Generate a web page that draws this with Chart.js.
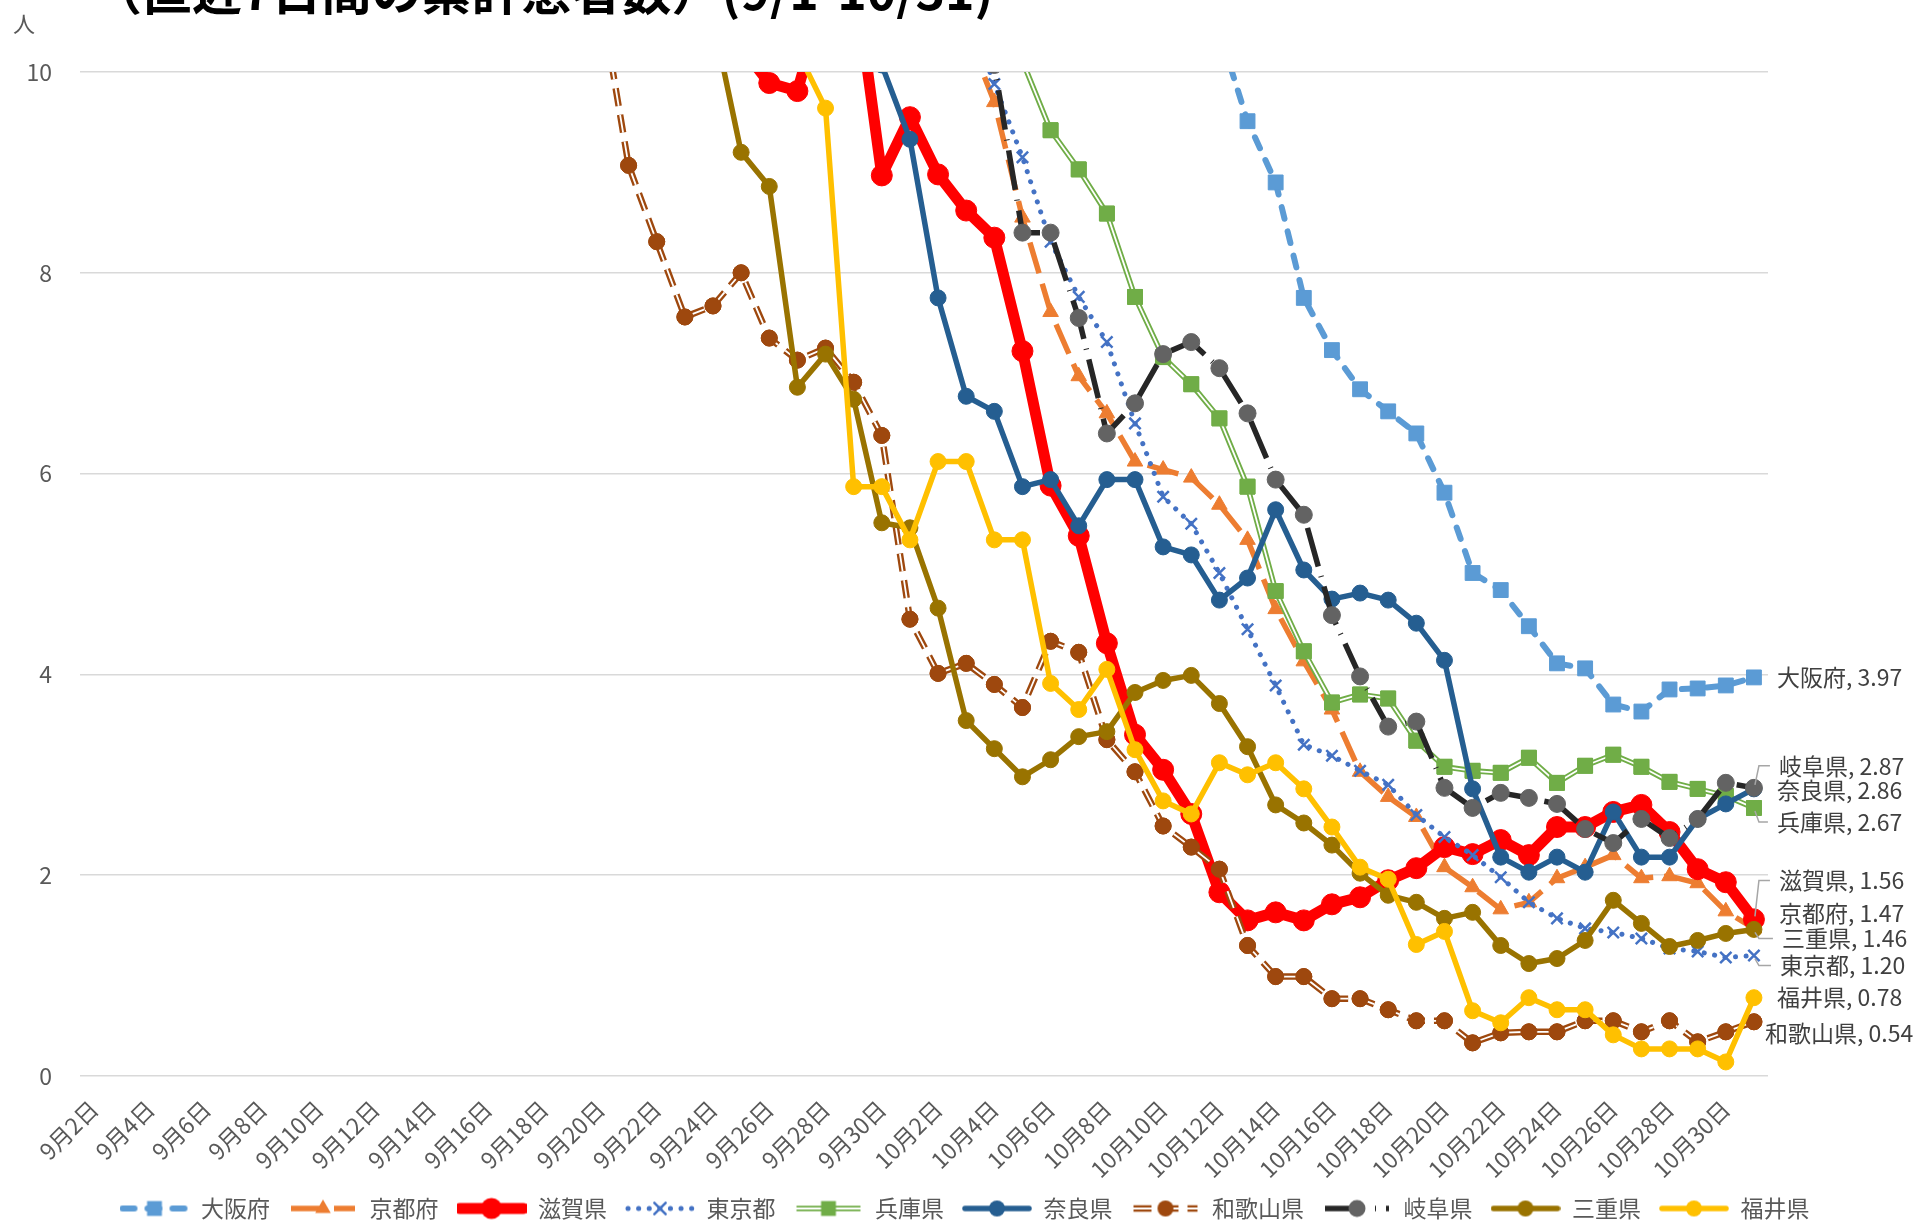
<!DOCTYPE html>
<html>
<head>
<meta charset="utf-8">
<script src="https://cdn.jsdelivr.net/npm/chart.js@4.4.1/dist/chart.umd.min.js"></script>
<style>
html, body { margin: 0; padding: 0; background: #ffffff; overflow: hidden; }
#wrap { position: relative; width: 1917px; height: 1221px; overflow: hidden; }
#c { position: absolute; left: 0; top: 0; }
#title { position: absolute; left: 92px; top: -37px; font: bold 50px "Noto Sans CJK JP", sans-serif; color: #000000; white-space: nowrap; line-height: 1; }
#unit { position: absolute; left: 13px; top: 11px; font: 22px "Noto Sans CJK JP", sans-serif; color: #595959; line-height: 1; }
</style>
</head>
<body>
<div id="wrap">
  <canvas id="c" width="1917" height="1230"></canvas>
  <div id="title">（直近7日間の累計患者数）(9/1-10/31)</div>
  <div id="unit">人</div>
</div>
<script>
// ---------------- data ----------------
const categories = ['9月2日','9月3日','9月4日','9月5日','9月6日','9月7日','9月8日','9月9日','9月10日','9月11日','9月12日','9月13日','9月14日','9月15日','9月16日','9月17日','9月18日','9月19日','9月20日','9月21日','9月22日','9月23日','9月24日','9月25日','9月26日','9月27日','9月28日','9月29日','9月30日',
'10月1日','10月2日','10月3日','10月4日','10月5日','10月6日','10月7日','10月8日','10月9日','10月10日','10月11日','10月12日','10月13日','10月14日','10月15日','10月16日','10月17日','10月18日','10月19日','10月20日','10月21日','10月22日','10月23日','10月24日','10月25日','10月26日','10月27日','10月28日','10月29日','10月30日','10月31日'];

const yTicks = [0, 2, 4, 6, 8, 10];

const seriesNames = ['大阪府','京都府','滋賀県','東京都','兵庫県','奈良県','和歌山県','岐阜県','三重県','福井県'];

const osaka = [128,125,121,117,112,108,103,98,93,88, 83,78,73,68,64,60,56,52,48,45, 42,39,36,33,31,29,27,25,23,21.5, 20,18.5,17,16,15,14,13.2,12.4,11.6,11.0, 10.4, 9.51,8.90,7.75,7.23,6.84,6.62,6.40,5.81,5.01, 4.84,4.48,4.11,4.06,3.70,3.63,3.85,3.86,3.89,3.97];
const kyoto = [92,89,86,82,78,74,70,66,62,58, 54,50,47,44,41,38,35,32,30,28, 26,24,22,20.5,19,17.5,16,14.5,13.2,12.1, 11.2, 10.42, 9.70,8.55,7.61,6.97,6.60,6.12,6.04,5.96, 5.69,5.34,4.65,4.13,3.65,3.03,2.78,2.58,2.08,1.88, 1.66,1.73,1.97,2.08,2.20,1.97,1.99,1.92,1.64,1.47];
const shiga = [78,75,72,68,64,60,56,52,48,44, 41,38,35,32,29,26.5,24,22,20,18, 16,14,12, 10.25, 9.89,9.81,10.8,11.03,8.97,9.55, 8.98,8.62,8.35,7.22,5.88,5.38,4.31,3.40,3.05,2.61, 1.83,1.55,1.63,1.55,1.71,1.78,1.95,2.07,2.28,2.21, 2.35,2.20,2.48,2.48,2.63,2.70,2.43,2.06,1.93,1.56];
const tokyo = [120,114,108,102,96,90,84,78,72,67, 62,57,52,48,44,41,38,35,32,29.5, 27,25,23,21,19.5,18,16.5,15,13.8,12.6, 11.5, 10.64, 9.88,9.15,8.31,7.76,7.31,6.50,5.77,5.50, 5.01,4.45,3.89,3.30,3.19,3.04,2.90,2.60,2.38,2.20, 1.98,1.73,1.57,1.47,1.43,1.37,1.27,1.24,1.18,1.20];
const hyogo = [95,92,89,86,82,78,74,70,66,62, 58,54,50,47,44,41,38,35,32.5,30, 28,26,24,22,20.5,19,17.5,16,14.8,13.6, 12.5,11.6,10.8, 10.11, 9.42,9.03,8.59,7.76,7.16,6.89, 6.55,5.87,4.83,4.23,3.72,3.80,3.76,3.34,3.08,3.04, 3.02,3.17,2.92,3.09,3.20,3.08,2.93,2.86,2.79,2.67];
const nara = [72,70,68,65,62,59,56,53,50,47, 44,41,38,35,32,29.5,27,25,23,21, 19.5,18,16.5,15,13.8,12.7,11.7,10.8, 10.07, 9.33, 7.75,6.77,6.62,5.87,5.94,5.48,5.94,5.94,5.27,5.19, 4.74,4.96,5.64,5.04,4.75,4.81,4.74,4.51,4.14,2.86, 2.18,2.03,2.18,2.03,2.63,2.18,2.18,2.56,2.71,2.86];
const wakayama = [34,33,32,31,30,28.5,27,25.5,24,22.5, 21,19.5,18,16.5,15,13.5,12.4,11.5, 10.74, 9.07, 8.31,7.56,7.67,8.00,7.35,7.13,7.25,6.91,6.38,4.55, 4.01,4.11,3.90,3.67,4.33,4.22,3.35,3.03,2.49,2.28, 2.06,1.30,0.99,0.99,0.77,0.77,0.66,0.55,0.55,0.33, 0.43,0.44,0.44,0.55,0.55,0.44,0.55,0.34,0.44,0.54];
const gifu = [82,79,76,73,70,67,64,61,58,55, 52,49,46,43,40,37,34.5,32,29.5,27, 25,23,21,19.5,18,16.5,15.2,14,12.9,11.9, 11.1,10.5, 10.07, 8.40,8.40,7.55,6.40,6.70,7.19,7.31, 7.05,6.60,5.94,5.59,4.59,3.98,3.48,3.53,2.87,2.67, 2.82,2.77,2.71,2.46,2.32,2.56,2.37,2.56,2.92,2.87];
const mie = [60,58,56,53,50,47,44,41,38,35, 32,29.5,27,25,23,21,19.2,17.5,15.8,14.2, 12.8,11.6, 10.53, 9.20,8.86,6.86,7.19,6.74,5.51,5.46, 4.66,3.54,3.26,2.98,3.15,3.38,3.43,3.82,3.94,3.99, 3.71,3.28,2.70,2.52,2.30,2.02,1.80,1.73,1.57,1.63, 1.30,1.12,1.17,1.35,1.75,1.52,1.29,1.35,1.42,1.46];
const fukui = [32,31,30,29,28,27,26,25,24,23, 22,21,20,19,18,17,16,15.2,14.4,13.6, 12.9,12.2,11.6,11.0,10.6, 10.21, 9.64,5.87,5.87,5.34, 6.12,6.12,5.34,5.34,3.91,3.65,4.05,3.25,2.74,2.61, 3.12,3.00,3.12,2.86,2.48,2.08,1.96,1.31,1.44,0.65, 0.53,0.78,0.66,0.66,0.41,0.27,0.27,0.27,0.14,0.78];

const seriesData = [osaka, kyoto, shiga, tokyo, hyogo, nara, wakayama, gifu, mie, fukui];

// ---------------- styles ----------------
const seriesStyles = [
  { color: '#5B9BD5', width: 6, dash: [12, 13], cap: 'round', marker: 'rect', r: 10.5 },
  { color: '#ED7D31', width: 5.5, dash: [32, 11], cap: 'butt', marker: 'triangle', r: 9 },
  { color: '#FF0000', width: 11, dash: [], cap: 'round', marker: 'circle', r: 10.5 },
  { color: '#4472C4', width: 5, dash: [0.1, 10.5], cap: 'round', marker: 'crossRot', r: 8, mbw: 2.5 },
  { color: '#70AD47', width: 5.5, dash: [], cap: 'butt', marker: 'rect', r: 10.5, core: 1.8 },
  { color: '#255E91', width: 5.5, dash: [], cap: 'round', marker: 'circle', r: 8 },
  { color: '#9E480E', width: 6.5, dash: [18, 9], cap: 'butt', marker: 'circle', r: 8, core: 1.8 },
  { color: '#262626', width: 5.5, dash: [40, 10, 1, 10], cap: 'butt', marker: 'circle', r: 8.5, mcolor: '#636363' },
  { color: '#997300', width: 5.5, dash: [], cap: 'round', marker: 'circle', r: 8 },
  { color: '#FFC000', width: 5.5, dash: [], cap: 'round', marker: 'circle', r: 8 }
];
// end-label placement: offset from last point (px) and leader line
const labelPlace = [
  { dx: 23, dy: 0, leader: false },
  { dx: 25, dy: -15, leader: false },
  { dx: 25, dy: -39, leader: true },
  { dx: 26, dy: 10, leader: true },
  { dx: 23, dy: 14, leader: true },
  { dx: 23, dy: 1, leader: false },
  { dx: 11, dy: 11, leader: false },
  { dx: 25, dy: -22, leader: true },
  { dx: 28, dy: 9, leader: true },
  { dx: 23, dy: 0, leader: false }
];

function drawMarker(g, type, x, y, r, color, bw) {
  g.save();
  g.fillStyle = color; g.strokeStyle = color; g.lineWidth = 1;
  g.setLineDash([]);
  g.beginPath();
  if (type === 'rect') {
    const s = r * Math.SQRT1_2;
    g.rect(x - s, y - s, 2 * s, 2 * s); g.fill();
  } else if (type === 'triangle') {
    let a = 0;
    g.moveTo(x + Math.sin(a) * r, y - Math.cos(a) * r);
    a += 2 * Math.PI / 3; g.lineTo(x + Math.sin(a) * r, y - Math.cos(a) * r);
    a += 2 * Math.PI / 3; g.lineTo(x + Math.sin(a) * r, y - Math.cos(a) * r);
    g.closePath(); g.fill();
  } else if (type === 'crossRot') {
    const s = r * Math.SQRT1_2;
    g.lineWidth = bw || 2.5;
    g.moveTo(x - s, y - s); g.lineTo(x + s, y + s);
    g.moveTo(x + s, y - s); g.lineTo(x - s, y + s);
    g.stroke();
  } else {
    g.arc(x, y, r, 0, Math.PI * 2); g.fill();
  }
  g.restore();
}

function makeIcon(st) {
  const c = document.createElement('canvas');
  c.width = 70; c.height = 26;
  const g = c.getContext('2d');
  const y = 13;
  g.lineCap = st.cap;
  g.setLineDash(st.dash);
  g.strokeStyle = st.color; g.lineWidth = st.width;
  g.beginPath(); g.moveTo(3, y); g.lineTo(67, y); g.stroke();
  if (st.core) {
    g.strokeStyle = '#FFFFFF'; g.lineWidth = st.core;
    g.beginPath(); g.moveTo(3, y); g.lineTo(67, y); g.stroke();
  }
  drawMarker(g, st.marker, 35, y, st.r, st.mcolor || st.color, st.mbw);
  return c;
}
const legendIcons = seriesStyles.map(makeIcon);

const datasets = [];
seriesNames.forEach((name, i) => {
  const st = seriesStyles[i];
  const order = 10 - i;
  const mc = st.mcolor || st.color;
  datasets.push({
    label: name, seriesIndex: i, data: seriesData[i],
    borderColor: st.color, borderWidth: st.width, borderDash: st.dash,
    borderCapStyle: st.cap, borderJoinStyle: 'round',
    pointStyle: st.marker, pointRadius: st.r, pointHoverRadius: st.r,
    pointBackgroundColor: mc, pointBorderColor: mc, pointBorderWidth: st.mbw || 1,
    tension: 0, fill: false, order: order, clip: 0, yAxisID: 'y'
  });
  if (st.core) {
    datasets.push({
      label: name + ' core', isCore: true, seriesIndex: i, data: seriesData[i],
      borderColor: '#FFFFFF', borderWidth: st.core, borderDash: st.dash,
      borderCapStyle: st.cap, borderJoinStyle: 'round',
      pointStyle: st.marker, pointRadius: st.r, pointHoverRadius: st.r,
      pointBackgroundColor: mc, pointBorderColor: mc, pointBorderWidth: 1,
      tension: 0, fill: false, order: order - 0.5, clip: 0, yAxisID: 'y'
    });
  }
});

const endLabels = {
  id: 'endLabels',
  afterDatasetsDraw(chart) {
    const ctx = chart.ctx;
    ctx.save();
    ctx.font = '23px "Noto Sans CJK JP"';
    ctx.textBaseline = 'middle';
    ctx.textAlign = 'left';
    chart.data.datasets.forEach((ds, di) => {
      if (ds.isCore) return;
      const meta = chart.getDatasetMeta(di);
      const pt = meta.data[meta.data.length - 1];
      const v = ds.data[ds.data.length - 1];
      const lp = labelPlace[ds.seriesIndex];
      const tx = pt.x + lp.dx, ty = pt.y + lp.dy;
      if (lp.leader) {
        ctx.strokeStyle = '#A6A6A6'; ctx.lineWidth = 1.5;
        ctx.beginPath();
        ctx.moveTo(tx - 9, ty);
        ctx.lineTo(pt.x + 5, ty);
        ctx.lineTo(pt.x + 1, pt.y + (lp.dy < 0 ? -3 : 3));
        ctx.stroke();
      }
      ctx.fillStyle = '#404040';
      ctx.fillText(ds.label + ', ' + v.toFixed(2), tx, ty);
    });
    ctx.restore();
  }
};

function build() {
  Chart.defaults.font.family = '"Noto Sans CJK JP", "Noto Sans", sans-serif';
  new Chart(document.getElementById('c'), {
    type: 'line',
    data: { labels: categories, datasets: datasets },
    options: {
      responsive: false, animation: false, devicePixelRatio: 1,
      layout: { padding: { left: 12, right: 0, top: 72, bottom: 0 } },
      plugins: {
        title: { display: false },
        tooltip: { enabled: false },
        legend: {
          display: true, position: 'bottom',
          labels: {
            usePointStyle: true, pointStyleWidth: 70, padding: 18,
            color: '#595959', font: { size: 23 },
            generateLabels(chart) {
              const items = [];
              chart.data.datasets.forEach((ds, i) => {
                if (ds.isCore) return;
                items.push({ text: ds.label, datasetIndex: i, pointStyle: legendIcons[ds.seriesIndex],
                  fillStyle: ds.borderColor, strokeStyle: ds.borderColor, lineWidth: 0, hidden: false, rotation: 0, fontColor: '#595959' });
              });
              return items;
            }
          }
        }
      },
      scales: {
        x: {
          type: 'category', offset: true,
          grid: { display: false, drawTicks: false },
          border: { display: false },
          ticks: {
            autoSkip: false, maxRotation: 45, minRotation: 45, padding: 19,
            color: '#595959', font: { size: 23 },
            callback(value, index) { return index % 2 === 0 ? this.getLabelForValue(value) : null; }
          },
          afterFit(scale) { scale.height = 103; }
        },
        y: {
          type: 'linear', position: 'left', min: 0, max: 10,
          afterBuildTicks(scale) { scale.ticks = yTicks.map(v => ({ value: v })); },
          grid: { color: '#D9D9D9', lineWidth: 1.5, drawTicks: false },
          border: { display: false },
          ticks: { color: '#595959', font: { size: 23 }, padding: 28 },
          afterFit(scale) { scale.width = 68; }
        },
        y2: {
          type: 'linear', position: 'right', min: 0, max: 10, display: true,
          grid: { display: false, drawTicks: false }, border: { display: false },
          ticks: { display: false },
          afterFit(scale) { scale.width = 149; }
        }
      }
    },
    plugins: [endLabels]
  });
}

if (document.fonts && document.fonts.load) {
  Promise.all([
    document.fonts.load('23px "Noto Sans CJK JP"', '大阪府'),
    document.fonts.load('bold 50px "Noto Sans CJK JP"', '直近')
  ]).then(build, build);
} else { build(); }
</script>
</body>
</html>
